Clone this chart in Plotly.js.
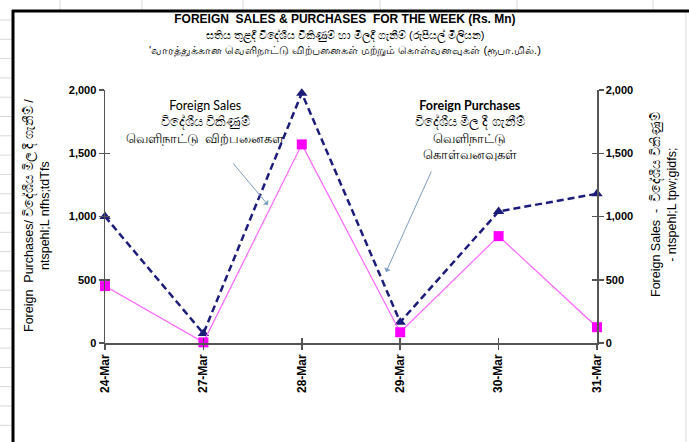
<!DOCTYPE html>
<html>
<head>
<meta charset="utf-8">
<script src="https://cdn.plot.ly/plotly-3.0.1.min.js"></script>
<style>html,body{margin:0;padding:0;background:#fff;}#chart{width:689px;height:442px;}</style>
</head>
<body>
<div id="chart"></div>
<script>
const dates = ["24-Mar", "27-Mar", "28-Mar", "29-Mar", "30-Mar", "31-Mar"];
const purchases = [1000, 75, 1975, 165, 1040, 1180];
const sales = [450, 5, 1570, 85, 845, 125];
const yTicks = [0, 500, 1000, 1500, 2000];

const W = 689, H = 442, L = 105, R = 92, T = 90, B = 99;
const pw = W - L - R, ph = H - T - B;
const px = v => (v - L) / pw;
const py = v => (H - B - v) / ph;

const titleText = "<b>FOREIGN  SALES &amp; PURCHASES  FOR THE WEEK (Rs. Mn)</b><br>" +
  "<span style='font-size:11px'>සතිය තුළදී විදේශීය විකිණුම් හා මිලදී ගැනීම් (රුපියල් මිලියන)</span><br>" +
  "<span style='font-size:11px'>'வாரத்துக்கான வெளிநாட்டு விற்பனைகள் மற்றும் கொள்வனவுகள் (ரூபா.மில்.)</span>";

const traces = [
  {x: dates, y: purchases, type: 'scatter', mode: 'lines+markers', name: 'Foreign Purchases',
   line: {color: '#1c1c7a', width: 2.5, dash: '7px,4px'},
   marker: {symbol: 'triangle-up', size: 10, color: '#1c1c7a'}, cliponaxis: false},
  {x: dates, y: sales, type: 'scatter', mode: 'lines+markers', name: 'Foreign Sales',
   line: {color: '#ff66ff', width: 1.2},
   marker: {symbol: 'square', size: 10, color: '#ff00ff'}, cliponaxis: false}
];

const shapes = [];
// spreadsheet background gridlines
[60, 142, 243, 380, 517, 653].forEach(x => shapes.push({type:'line', xref:'paper', yref:'paper', x0:px(x), x1:px(x), y0:py(0), y1:py(10), line:{color:'#d9d9d9', width:1}, layer:'below'}));
for (let y = 20; y < 442; y += 19.3) shapes.push({type:'line', xref:'paper', yref:'paper', x0:px(0), x1:px(12), y0:py(y), y1:py(y), line:{color:'#d9d9d9', width:1}, layer:'below'});
shapes.push({type:'line', xref:'paper', yref:'paper', x0:px(686), x1:px(686), y0:py(12), y1:py(442), line:{color:'#d9d9d9', width:1}, layer:'below'});
// chart border
shapes.push({type:'line', xref:'paper', yref:'paper', x0:px(12), x1:px(689), y0:py(11), y1:py(11), line:{color:'#000', width:3}});
shapes.push({type:'line', xref:'paper', yref:'paper', x0:px(13), x1:px(13), y0:py(10), y1:py(442), line:{color:'#000', width:3}});

const annFont = {family: 'Lato, "Liberation Sans", sans-serif', size: 12.5, color: '#000'};
const annotations = [
  {xref:'paper', yref:'paper', x:px(345), y:py(10), xanchor:'center', yanchor:'top', showarrow:false, align:'center',
   text: titleText, font:{family:'"Liberation Sans", Arial, sans-serif', size:12, color:'#000'}},
  {xref:'paper', yref:'paper', x:px(36), y:py(216), xanchor:'center', yanchor:'middle', showarrow:false, textangle:-90, align:'center',
   text:"Foreign  Purchases/ විදේශීය මිල දී ගැනීම් /<br>ntspehl;L nfhs;tdTfs", font:{family:'"Liberation Sans", Arial, sans-serif', size:12.5, color:'#000'}},
  {xref:'paper', yref:'paper', x:px(663), y:py(205), xanchor:'center', yanchor:'middle', showarrow:false, textangle:-90, align:'center',
   text:"Foreign Sales  -  විදේශීය විකිණුම්<br>- ntspehl;L tpw;gidfs;", font:{family:'"Liberation Sans", Arial, sans-serif', size:12.5, color:'#000'}},
  {xref:'paper', yref:'paper', x:px(205), y:py(122), xanchor:'center', yanchor:'middle', showarrow:false, align:'center',
   text:"Foreign Sales<br>විදේශීය විකිණුම්<br>வெளிநாட்டு  விற்பனைகள", font:annFont},
  {xref:'paper', yref:'paper', x:px(470), y:py(130), xanchor:'center', yanchor:'middle', showarrow:false, align:'center',
   text:"<b>Foreign Purchases</b><br>විදේශීය මිල දී ගැනීම්<br>வெளிநாட்டு<br>கொள்வனவுகள்", font:annFont},
  {xref:'paper', yref:'paper', x:px(268), y:py(205), text:'', showarrow:true, arrowhead:1, arrowsize:1.2, arrowwidth:1, arrowcolor:'#7f9cc0', ax:-36, ay:-43},
  {xref:'paper', yref:'paper', x:px(386), y:py(272), text:'', showarrow:true, arrowhead:1, arrowsize:1.2, arrowwidth:1, arrowcolor:'#7f9cc0', ax:46, ay:-102}
];

const tickFont = {family:'"Liberation Sans", Arial, sans-serif', size:11, color:'#000', weight:'bold'};
const xTickFont = {family:'"Liberation Sans", Arial, sans-serif', size:12, color:'#000', weight:'bold'};
const layout = {
  width: W, height: H,
  margin: {l: L, r: R, t: T, b: B, pad: 0},
  paper_bgcolor: '#fff', plot_bgcolor: '#fff',
  showlegend: false,
  xaxis: {type:'category', range:[0, 5], showgrid:false, zeroline:false, showline:true, linecolor:'#555', linewidth:1.5,
          ticks:'outside', ticklen:5, tickcolor:'#555', tickwidth:1.5, tickangle:-90, tickfont:xTickFont},
  xaxis2: {type:'category', range:[0, 5], overlaying:'x', side:'bottom', showgrid:false, zeroline:false, showline:false,
          ticks:'inside', ticklen:5, tickcolor:'#555', tickwidth:1.5, showticklabels:false},
  yaxis: {range:[0, 2000], tickvals:yTicks, tickformat:',', showgrid:false, zeroline:false, showline:true, linecolor:'#555', linewidth:1.5,
          ticks:'outside', ticklen:5, tickcolor:'#555', tickwidth:1.5, tickfont:tickFont},
  yaxis2: {range:[0, 2000], tickvals:yTicks, tickformat:',', overlaying:'y', side:'right', showgrid:false, zeroline:false, showline:true,
           linecolor:'#555', linewidth:1.5, ticks:'outside', ticklen:5, tickcolor:'#555', tickwidth:1.5, tickfont:tickFont},
  yaxis3: {range:[0, 2000], tickvals:yTicks, overlaying:'y', side:'left', showgrid:false, zeroline:false, showline:false,
           ticks:'inside', ticklen:5, tickcolor:'#555', tickwidth:1.5, showticklabels:false},
  yaxis4: {range:[0, 2000], tickvals:yTicks, overlaying:'y', side:'right', showgrid:false, zeroline:false, showline:false,
           ticks:'inside', ticklen:5, tickcolor:'#555', tickwidth:1.5, showticklabels:false},
  shapes: shapes,
  annotations: annotations
};

// invisible traces attaching overlay axes so the crossing tick marks render
traces.push({x: dates, y: sales, yaxis:'y2', type:'scatter', mode:'none', hoverinfo:'skip', showlegend:false});
traces.push({x: dates, y: sales, yaxis:'y3', type:'scatter', mode:'none', hoverinfo:'skip', showlegend:false});
traces.push({x: dates, y: sales, yaxis:'y4', type:'scatter', mode:'none', hoverinfo:'skip', showlegend:false});
traces.push({x: dates, y: sales, xaxis:'x2', type:'scatter', mode:'none', hoverinfo:'skip', showlegend:false});

Plotly.newPlot('chart', traces, layout, {staticPlot: true, displayModeBar: false});
</script>
</body>
</html>
